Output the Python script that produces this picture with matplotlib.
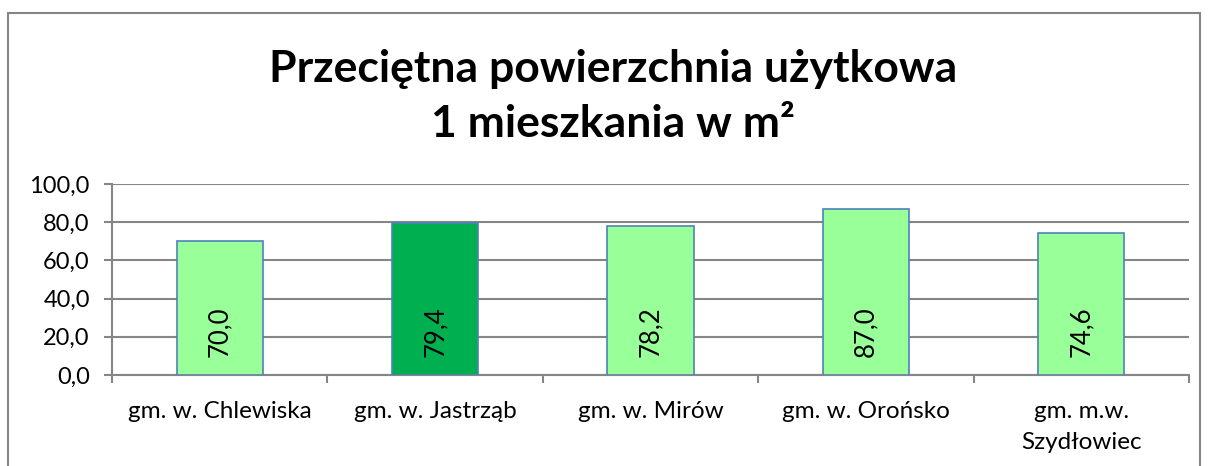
import matplotlib
matplotlib.use('Agg')
from matplotlib import pyplot as plt
from matplotlib.patches import Rectangle

categories = ['gm. w. Chlewiska', 'gm. w. Jastrząb', 'gm. w. Mirów',
              'gm. w. Orońsko', 'gm. m.w.\nSzydłowiec']
values = [70.0, 79.4, 78.2, 87.0, 74.6]
bar_colors = ['#99FF99', '#00B050', '#99FF99', '#99FF99', '#99FF99']
y_ticks = [0, 20, 40, 60, 80, 100]

plt.rcParams['font.family'] = ['Lato', 'DejaVu Sans']

W, H = 1208, 466
fig = plt.figure(figsize=(W / 100, H / 100), dpi=100)

# outer chart frame
fig.patches.append(Rectangle((8 / W, -0.05), 1192 / W, 1.05 - 13 / H,
                             transform=fig.transFigure, fill=False,
                             edgecolor='#868686', linewidth=1.5))

ax = fig.add_axes([112 / W, 1 - 375 / H, (1189 - 112) / W, (375 - 184) / H])
x = list(range(len(categories)))
ax.bar(x, values, width=0.4, color=bar_colors, edgecolor='#4F81BD',
       linewidth=1.2, zorder=3)

for xi, v in zip(x, values):
    ax.annotate(f'{v:.1f}'.replace('.', ','), (xi, 0), xytext=(0, 18),
                textcoords='offset pixels', rotation=90, ha='center',
                va='bottom', fontsize=18.5, zorder=4)

ax.set_xlim(-0.5, len(categories) - 0.5)
ax.set_ylim(0, 100)
ax.set_yticks(y_ticks)
ax.set_yticklabels([f'{t:.1f}'.replace('.', ',') for t in y_ticks], fontsize=17)
ax.yaxis.grid(True, color='#868686', linewidth=1.5, zorder=0)

ax.set_xticks(x)
ax.set_xticklabels(categories, fontsize=17.5, linespacing=1.55)
ax.set_xticks([i - 0.5 for i in range(len(categories) + 1)], minor=True)
ax.tick_params(axis='x', which='major', length=0, pad=19)
ax.tick_params(axis='x', which='minor', length=6, width=1.5, color='#868686')
ax.tick_params(axis='y', length=6, width=1.5, color='#868686', pad=10)

for s in ['top', 'right']:
    ax.spines[s].set_visible(False)
for s in ['left', 'bottom']:
    ax.spines[s].set_color('#868686')
    ax.spines[s].set_linewidth(1.5)

fig.text(613 / W, 1 - 137 / H, 'Przeciętna powierzchnia użytkowa\n1 mieszkania w m²',
         ha='center', va='baseline', fontsize=32, fontweight='bold',
         linespacing=1.45)

fig.savefig('out.png', dpi=100)
